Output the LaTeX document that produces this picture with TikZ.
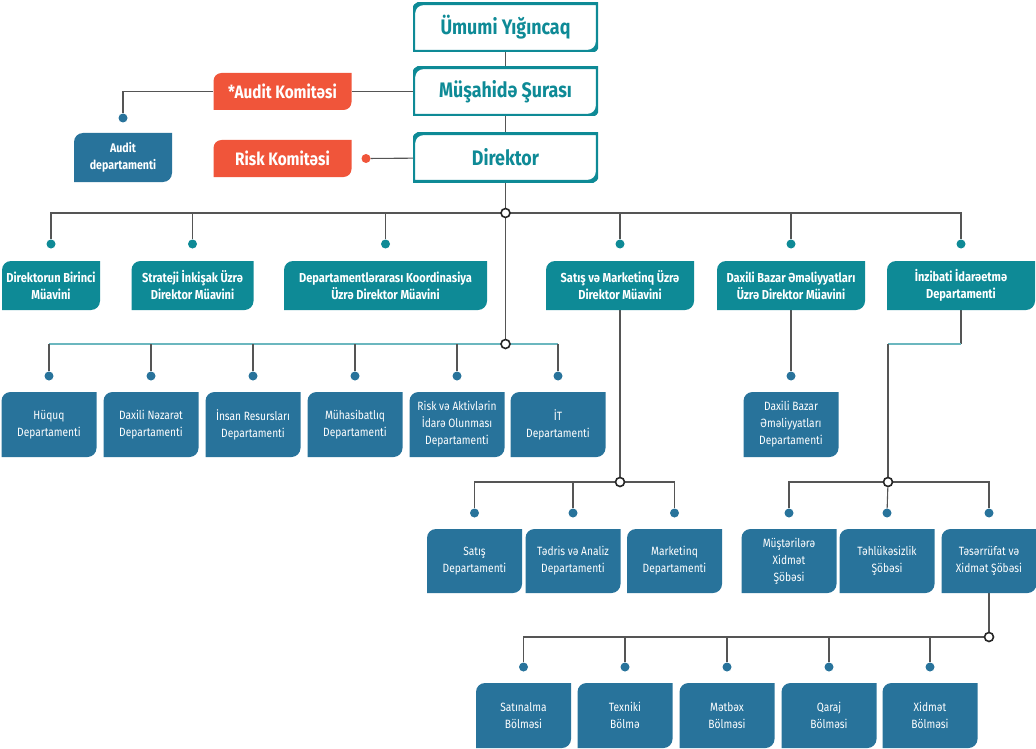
\documentclass[tikz,border=0pt]{standalone}
\usepackage{fontspec}
\setmainfont{Fira Sans}[FakeStretch=0.85]
\usetikzlibrary{backgrounds}

\definecolor{orgteal}{HTML}{0E8A96}
\definecolor{orgblue}{HTML}{28739B}
\definecolor{orgred}{HTML}{F0553A}
\definecolor{orgline}{HTML}{555555}
\definecolor{orgbus}{HTML}{6BB7BF}

\newcommand{\tabshape}[2]{%
  \path[#1] ([yshift=-#2]path picture bounding box.north west)
    arc[start angle=180, end angle=90, radius=#2]
    -- (path picture bounding box.north east)
    -- ([yshift=#2]path picture bounding box.south east)
    arc[start angle=0, end angle=-90, radius=#2]
    -- (path picture bounding box.south west) -- cycle;}

\tikzstyle{tab box}=[inner sep=0, align=center, text=white]
\tikzstyle{teal box}=[tab box, font=\fontsize{13}{17}\selectfont\bfseries,
  path picture={\tabshape{fill=orgteal}{9pt}}]
\tikzstyle{blue box}=[tab box, font=\fontsize{12}{17}\selectfont,
  path picture={\tabshape{fill=orgblue}{9pt}}]
\tikzstyle{red box}=[tab box, font=\fontsize{18}{20}\selectfont\bfseries,
  path picture={\tabshape{fill=orgred}{8pt}}]
\tikzstyle{top box}=[tab box, text=orgteal, font=\fontsize{21}{24}\selectfont\bfseries,
  path picture={\tabshape{draw=orgteal, line width=4.4pt}{10pt}}]
\tikzstyle{connector}=[draw=orgline, line width=1.1pt]
\tikzstyle{bus}=[draw=orgbus, line width=1.1pt]
\tikzstyle{joint}=[circle, draw=black!85, fill=white, line width=1.6pt, minimum size=9pt, inner sep=0]
\tikzstyle{pin}=[circle, fill=orgblue, minimum size=9pt, inner sep=0]
\tikzstyle{teal pin}=[pin, fill=orgteal]
\tikzstyle{red pin}=[pin, fill=orgred]

\begin{document}
\begin{tikzpicture}[x=1pt, y=1pt]
  \useasboundingbox (0,0) rectangle (1036,-749);

  \node[top box, minimum width=185, minimum height=49] (gen_meeting) at (505.5,-27.5) {Ümumi Yığıncaq};
  \node[top box, minimum width=185, minimum height=49] (sup_board) at (505.5,-91.5) {Müşahidə Şurası};
  \node[top box, minimum width=185, minimum height=49] (director) at (505.5,-157.5) {Direktor};

  \node[red box, minimum width=138, minimum height=37] (audit_com) at (282.5,-91.5) {*Audit Komitəsi};
  \node[red box, minimum width=138, minimum height=37] (risk_com) at (282.5,-158.5) {Risk Komitəsi};
  \node[teal box, path picture={\tabshape{fill=orgblue}{9pt}}, font=\fontsize{12.5}{17}\selectfont\bfseries,
    minimum width=98, minimum height=49] (audit_dep) at (123,-157.5) {Audit\\departamenti};
  \node[pin] (audit_pin) at (123,-118) {};
  \node[red pin] (risk_pin) at (366,-158.5) {};

  \node[joint] (joint_top) at (505.5,-213) {};
  \node[teal box, minimum width=98, minimum height=49] (dir_first) at (51,-285.5) {Direktorun Birinci\\Müavini};
  \node[teal box, minimum width=122, minimum height=49] (strat_dev) at (192.5,-285.5) {Strateji İnkişak Üzrə\\Direktor Müavini};
  \node[teal box, minimum width=203, minimum height=49] (coord_dev) at (385.5,-285.5) {Departamentlərarası Koordinasiya\\Üzrə Direktor Müavini};
  \node[teal box, minimum width=148, minimum height=49] (sales_dev) at (620,-285.5) {Satış və Marketinq Üzrə\\Direktor Müavini};
  \node[teal box, minimum width=148, minimum height=49] (market_dev) at (791,-285.5) {Daxili Bazar Əməliyyatları\\Üzrə Direktor Müavini};
  \node[teal box, minimum width=148, minimum height=49] (admin_dep) at (961,-285.5) {İnzibati İdarəetmə\\Departamenti};
  \foreach \name in {dir_first, strat_dev, coord_dev, sales_dev, market_dev, admin_dep}
    \node[teal pin] (\name_pin) at (\name |- 0,-244) {};

  \node[joint] (joint_mid) at (505.5,-344) {};
  \node[blue box, minimum width=95, minimum height=65] (law_dep) at (49,-424.5) {Hüquq\\Departamenti};
  \node[blue box, minimum width=95, minimum height=65] (audit_int) at (151,-424.5) {Daxili Nəzarət\\Departamenti};
  \node[blue box, minimum width=95, minimum height=65] (hr_dep) at (253,-424.5) {İnsan Resursları\\Departamenti};
  \node[blue box, minimum width=95, minimum height=65] (acc_dep) at (355,-424.5) {Mühasibatlıq\\Departamenti};
  \node[blue box, minimum width=95, minimum height=65] (risk_dep) at (457,-424.5) {Risk və Aktivlərin\\İdarə Olunması\\Departamenti};
  \node[blue box, minimum width=95, minimum height=65] (it_dep) at (558,-424.5) {İT\\Departamenti};
  \node[blue box, minimum width=95, minimum height=65] (market_dep) at (791,-424.5) {Daxili Bazar\\Əməliyyatları\\Departamenti};
  \foreach \name in {law_dep, audit_int, hr_dep, acc_dep, risk_dep, it_dep, market_dep}
    \node[pin] (\name_pin) at (\name |- 0,-376) {};

  \node[joint] (joint_sales) at (620,-482) {};
  \node[joint] (joint_admin) at (888,-482) {};
  \node[blue box, minimum width=95, minimum height=64] (sales_dep) at (474.5,-561) {Satış\\Departamenti};
  \node[blue box, minimum width=95, minimum height=64] (train_dep) at (573,-561) {Tədris və Analiz\\Departamenti};
  \node[blue box, minimum width=95, minimum height=64] (mkt_dep) at (674.5,-561) {Marketinq\\Departamenti};
  \node[blue box, minimum width=95, minimum height=64] (cust_sec) at (789,-561) {Müştərilərə\\Xidmət\\Şöbəsi};
  \node[blue box, minimum width=95, minimum height=64] (safe_sec) at (887,-561) {Təhlükəsizlik\\Şöbəsi};
  \node[blue box, minimum width=95, minimum height=64] (supply_sec) at (989,-561) {Təsərrüfat və\\Xidmət Şöbəsi};
  \foreach \name in {sales_dep, train_dep, mkt_dep, cust_sec, safe_sec, supply_sec}
    \node[pin] (\name_pin) at (\name |- 0,-513) {};

  \node[joint] (joint_supply) at (989,-637) {};
  \node[blue box, minimum width=95, minimum height=65] (buy_unit) at (523.5,-715.5) {Satınalma\\Bölməsi};
  \node[blue box, minimum width=95, minimum height=65] (tech_unit) at (625,-715.5) {Texniki\\Bölmə};
  \node[blue box, minimum width=95, minimum height=65] (kitchen_unit) at (727,-715.5) {Mətbəx\\Bölməsi};
  \node[blue box, minimum width=95, minimum height=65] (garage_unit) at (829,-715.5) {Qaraj\\Bölməsi};
  \node[blue box, minimum width=95, minimum height=65] (service_unit) at (930,-715.5) {Xidmət\\Bölməsi};
  \foreach \name in {buy_unit, tech_unit, kitchen_unit, garage_unit, service_unit}
    \node[pin] (\name_pin) at (\name |- 0,-667) {};

  \coordinate (admin_bend) at (961,-344);

  \begin{scope}[on background layer]
    \draw[connector] (gen_meeting) -- (sup_board);
    \draw[connector] (sup_board) -- (director);
    \draw[connector] (director) -- (joint_top);
    \draw[connector] (joint_top) -- (joint_mid);
    \draw[connector] (sup_board) -- (audit_com);
    \draw[connector] (audit_com) -| (audit_pin);
    \draw[connector] (director) -- (risk_pin);
    \draw[connector] (dir_first_pin) |- (admin_dep_pin |- joint_top) -- (admin_dep_pin);
    \foreach \name in {strat_dev, coord_dev, sales_dev, market_dev}
      \draw[connector] (\name_pin) -- (\name_pin |- joint_top);

    \draw[bus] (law_dep_pin |- joint_mid) -- (it_dep_pin |- joint_mid);
    \foreach \name in {law_dep, audit_int, hr_dep, acc_dep, risk_dep, it_dep}
      \draw[connector] (\name_pin) -- (\name_pin |- joint_mid);
    \draw[connector] (market_dev) -- (market_dep_pin);

    \draw[connector] (sales_dev) -- (joint_sales);
    \draw[connector] (sales_dep_pin) |- (mkt_dep_pin |- joint_sales) -- (mkt_dep_pin);
    \draw[connector] (train_dep_pin) -- (train_dep_pin |- joint_sales);

    \draw[connector] (admin_dep) -- (admin_bend);
    \draw[bus] (admin_bend) -- (admin_bend -| joint_admin);
    \draw[connector] (admin_bend -| joint_admin) -- (joint_admin);
    \draw[connector] (cust_sec_pin) |- (supply_sec_pin |- joint_admin) -- (supply_sec_pin);
    \draw[connector] (safe_sec_pin) -- (joint_admin);

    \draw[connector] (supply_sec) -- (joint_supply);
    \draw[connector] (buy_unit_pin) |- (joint_supply);
    \foreach \name in {tech_unit, kitchen_unit, garage_unit, service_unit}
      \draw[connector] (\name_pin) -- (\name_pin |- joint_supply);
  \end{scope}
\end{tikzpicture}
\end{document}
